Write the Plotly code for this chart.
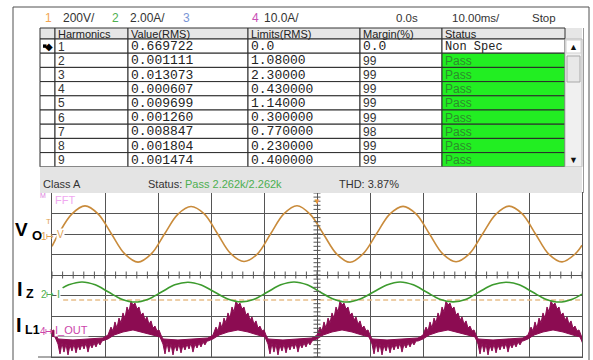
import plotly.graph_objects as go

# ================= DATA =================
top_items = ["1", "200V/", "2", "2.00A/", "3", "4", "10.0A/", "0.0s", "10.00ms/", "Stop"]
top_colors = ["#f2a552", "#333333", "#4fb04f", "#333333", "#7a96d6", "#c94fb6",
              "#333333", "#333333", "#333333", "#333333"]

table_columns = ["", "Harmonics", "Value(RMS)", "Limits(RMS)", "Margin(%)", "Status"]
harmonics = [1, 2, 3, 4, 5, 6, 7, 8, 9]
value_rms = ["0.669722", "0.001111", "0.013073", "0.000607", "0.009699",
             "0.001260", "0.008847", "0.001804", "0.001474"]
limits_rms = ["0.0", "1.08000", "2.30000", "0.430000", "1.14000",
              "0.300000", "0.770000", "0.230000", "0.400000"]
margin_pct = ["0.0", "99", "99", "99", "99", "99", "98", "99", "99"]
status = ["Non Spec", "Pass", "Pass", "Pass", "Pass", "Pass", "Pass", "Pass", "Pass"]
selected_row = 0

class_label = "Class A"
status_label = "Status:"
status_summary = "Pass 2.262k/2.262k"
thd_label = "THD: 3.87%"

# waveform readings (time in ms, 10 ms/div; vertical in divisions)
vo_t = [0, 1.23, 3.73, 6.23, 8.73, 11.23, 13.73, 16.23, 18.73, 21.23,
        23.73, 26.23, 28.73, 31.23, 33.73, 36.23, 38.73, 41.23, 43.73, 46.23,
        48.73, 51.23, 53.73, 56.23, 58.73, 61.23, 63.73, 66.23, 68.73, 71.23,
        73.73, 76.23, 78.73, 81.23, 83.73, 86.23, 88.73, 91.23, 93.73, 96.23,
        98.73, 100]
vo_v = [1.40,
        2.00, 2.97, 3.37, 2.97, 2.00, 1.03, 0.63, 1.03,
        2.00, 2.96, 3.34, 2.98, 2.01, 1.04, 0.66, 1.02,
        2.00, 2.98, 3.38, 2.96, 1.99, 1.02, 0.62, 1.04,
        2.01, 2.97, 3.35, 2.97, 2.00, 1.03, 0.65, 1.03,
        2.00, 2.96, 3.36, 2.98, 2.00, 1.02, 0.64, 1.03,
        1.45]

iz_t = [2.0, 3.16, 5.66, 8.16, 10.66, 13.16, 15.66, 18.16, 20.66, 23.16,
        25.66, 28.16, 30.66, 33.16, 35.66, 38.16, 40.66, 43.16, 45.66, 48.16,
        50.66, 53.16, 55.66, 58.16, 60.66, 63.16, 65.66, 68.16, 70.66, 73.16,
        75.66, 78.16, 80.66, 83.16, 85.66, 88.16, 90.66, 93.16, 95.66, 98.16, 100]
iz_v = [-0.63,
        -0.48, -0.34, -0.48, -0.83, -1.18, -1.32, -1.18, -0.83,
        -0.48, -0.35, -0.49, -0.83, -1.17, -1.31, -1.18, -0.83,
        -0.48, -0.34, -0.48, -0.84, -1.18, -1.32, -1.17, -0.83,
        -0.49, -0.34, -0.48, -0.83, -1.18, -1.31, -1.18, -0.82,
        -0.48, -0.35, -0.48, -0.83, -1.18, -1.32, -1.18,
        -0.93]

ref_level_t = [2.1, 100]
ref_level_v = [-1.22, -1.22]

# I_L1: hump centres and one period of envelope readings (offset ms, level div)
il1_centers = [-4.53, 15.28, 35.09, 54.72, 74.72, 94.53]
il1_up_dt = [-5.66, -4.72, -4.15, -3.77, -3.40, -3.02, -2.64, -2.26, -1.89, -1.51,
             -1.13, -0.75, -0.38, 0.00, 0.38, 0.75, 1.13, 1.51, 1.89, 2.26,
             2.64, 3.02, 3.40, 3.77, 4.15, 4.53, 4.91, 5.28, 5.66, 8.49,
             11.32, 13.96]
il1_up_v = [-3.07, -2.93, -2.54, -2.73, -2.29, -2.59, -2.10, -2.34, -1.85, -2.10,
            -1.56, -1.80, -1.27, -1.46, -1.37, -1.66, -1.56, -1.95, -1.85, -2.20,
            -2.05, -2.39, -2.24, -2.59, -2.49, -2.73, -2.68, -2.93, -3.12, -3.17,
            -3.12, -3.07]
il1_lo_dt = [-5.66, -4.72, -3.58, -1.89, 0.00, 1.89, 3.77, 5.09, 5.66, 6.04,
             6.42, 6.79, 7.17, 7.55, 7.92, 8.30, 8.68, 9.06, 9.43, 9.81,
             10.19, 10.57, 10.94, 11.32, 11.70, 12.08, 12.45, 12.83, 13.21, 13.58,
             13.96]
il1_lo_v = [-3.22, -3.12, -2.93, -2.78, -2.68, -2.78, -2.93, -3.02, -3.37, -3.85,
            -3.32, -3.76, -3.37, -3.90, -3.41, -3.71, -3.37, -3.80, -3.41, -3.66,
            -3.37, -3.61, -3.32, -3.76, -3.37, -3.56, -3.32, -3.51, -3.27, -3.41,
            -3.22]

# ================= STYLE / GEOMETRY =================
W, H = 593, 360
SANS = "Liberation Sans, Arial, sans-serif"
MONO = "Liberation Mono, Courier New, monospace"
C_VO = "#c98b3b"
C_IZ = "#3d9b2e"
C_IL = "#8c0c52"
C_GRID = "#555555"
GREEN_CELL = "#22ee22"
PASS_TXT = "#2c8c2c"

top_x = [44, 62, 111, 129, 182, 251, 263, 395, 451, 531]
col_edges = [40, 55, 128, 248, 360, 442, 565]
HEAD_T, HEAD_B = 28, 39
ROW_H = 14.2
scroll_x0, scroll_x1 = 565, 582
grid_l, grid_r, grid_t, grid_b = 52, 582, 193, 357

shapes = []
ann = []


def rect(x0, y0, x1, y1, fill, line=None, lw=1, layer="below"):
    shapes.append(dict(type="rect", xref="x2", yref="y2", x0=x0, y0=y0, x1=x1, y1=y1,
                       fillcolor=fill, layer=layer,
                       line=dict(color=line if line else "rgba(0,0,0,0)", width=lw if line else 0)))


def seg(x0, y0, x1, y1, color, lw=1, layer="above"):
    shapes.append(dict(type="line", xref="x2", yref="y2", x0=x0, y0=y0, x1=x1, y1=y1,
                       line=dict(color=color, width=lw), layer=layer))


def text(x, y, s, size=11, color="#222222", family=SANS, xanchor="left", bg=None):
    d = dict(x=x, y=y, xref="x2", yref="y2", text=s, showarrow=False,
             xanchor=xanchor, yanchor="middle",
             font=dict(family=family, size=size, color=color))
    if bg:
        d["bgcolor"] = bg
        d["borderpad"] = 0
    ann.append(d)


# outer frame
seg(13, 7, 589, 7, "#505050")
seg(13, 7, 13, 360, "#505050")
seg(589, 7, 589, 360, "#505050")

# top info bar
for s, c, x in zip(top_items, top_colors, top_x):
    text(x - 1, 17.5, s, size=12 if x < 390 else 11.5, color=c)

# table header
rect(col_edges[0], HEAD_T, scroll_x1, HEAD_B, "#e6e6e6")
for j, name in enumerate(table_columns):
    rect(col_edges[j], HEAD_T, col_edges[j + 1], HEAD_B, "#e6e6e6", "#333333")
    if name:
        text(col_edges[j] + 0.5, (HEAD_T + HEAD_B) / 2 + 0.5, name, size=11, color="#222222")

# table body
columns_data = [[""] * len(harmonics), [str(h) for h in harmonics], value_rms, limits_rms, margin_pct, status]
for i in range(len(harmonics)):
    y0 = HEAD_B + i * ROW_H
    y1 = y0 + ROW_H
    yc = (y0 + y1) / 2 + 0.5
    for j in range(len(table_columns)):
        val = columns_data[j][i]
        fill = "white"
        if j == 5 and val == "Pass":
            fill = GREEN_CELL
        rect(col_edges[j], y0, col_edges[j + 1], y1, fill, "#2a2a2a")
        if j == 0:
            if i == selected_row:
                # selection pointer: stem + diamond head
                rect(43, yc - 2.2, 46.5, yc + 1.2, "#000000", layer="above")
                text(48.5, yc - 0.5, "◆", size=10, color="#000000",
                     family="DejaVu Sans", xanchor="center")
            continue
        if j in (2, 3):
            text(col_edges[j] + 0.5, yc, val, size=13, family=MONO, color="#222222")
        elif j == 4:
            if val == "0.0":
                text(col_edges[j] + 0.5, yc, val, size=13, family=MONO, color="#222222")
            else:
                text(col_edges[j] + 0.5, yc, val, size=12, color="#333333")
        elif j == 5:
            if val == "Pass":
                text(col_edges[j] + 0.5, yc, val, size=12, color=PASS_TXT)
            else:
                text(col_edges[j] + 0.5, yc, val, size=12, family=MONO, color="#222222")
        else:
            text(col_edges[j] + 0.5, yc, val, size=12, color="#333333")

table_bottom = HEAD_B + len(harmonics) * ROW_H

# scrollbar
rect(scroll_x0, HEAD_B, scroll_x1, table_bottom, "#f0f0f0", "#b8b8b8")
rect(scroll_x0 + 1, HEAD_B + 1, scroll_x1 - 1, HEAD_B + 14, "white", "#d0d0d0")
rect(scroll_x0 + 2, HEAD_B + 17, scroll_x1 - 2, HEAD_B + 43, "#e8e8e8", "#a8a8a8")
text((scroll_x0 + scroll_x1) / 2, HEAD_B + 7.5, "▲", size=9, color="#111111", xanchor="center")
text((scroll_x0 + scroll_x1) / 2, table_bottom - 7, "▼", size=9, color="#111111", xanchor="center")
seg(583.5, HEAD_T, 583.5, grid_t, "#9a9a9a")

# status band
rect(col_edges[0], table_bottom, scroll_x1, grid_t, "#e4e4e4")
text(41, 183.5, class_label, size=11, color="#333333")
text(146, 183.5, status_label, size=11, color="#333333")
text(183, 183.5, status_summary, size=11, color="#4caf50")
text(337, 183.5, thd_label, size=11, color="#333333")

# bottom rule under scope
seg(38, grid_b, grid_r, grid_b, C_GRID)

# left big labels
text(13, 229.5, "<b>V</b>", size=19, color="#000000")
text(29.5, 235.5, "<b>O</b>", size=13, color="#000000")
text(15, 288.5, "<b>I</b>", size=20, color="#000000")
text(24, 294, "<b>Z</b>", size=12.5, color="#000000")
text(14, 325, "<b>I</b>", size=20, color="#000000")
text(23, 330, "<b>L1</b>", size=12.5, color="#000000")

# channel markers
text(38, 195.5, "M", size=7, color="#e080e0")
text(53, 199.5, "FFT", size=11, color="#f0a8f0")
text(44, 221, "T", size=8, color="#e0a050")
text(39, 236, "1", size=10, color="#e0a050")
text(44, 236, "↦", size=9, color="#e0a050")
text(56, 234, "V", size=10, color="#e0a050", bg="white")
text(39, 294, "2", size=10, color="#4fb04f")
text(44, 294, "↦", size=9, color="#4fb04f")
text(56, 293.5, "I", size=11, color="#4fb04f", bg="white")
text(38, 331, "4", size=10, color="#cc44aa")
text(43, 331, "↦", size=9, color="#cc44aa")
text(54, 330, "I_OUT", size=11, color="#cc44aa", bg="white")

# ================= FIGURE =================
fig = go.Figure()

# I_L1 envelope polygon
up_x, up_y, lo_x, lo_y = [], [], [], []
for c in il1_centers:
    up_x += [c + d for d in il1_up_dt]
    up_y += il1_up_v
    lo_x += [c + d for d in il1_lo_dt]
    lo_y += il1_lo_v
poly_x = up_x + lo_x[::-1] + [up_x[0]]
poly_y = up_y + lo_y[::-1] + [up_y[0]]
fig.add_trace(go.Scatter(x=poly_x, y=poly_y, mode="lines", fill="toself",
                         fillcolor=C_IL, line=dict(color=C_IL, width=1),
                         hoverinfo="skip"))

fig.add_trace(go.Scatter(x=ref_level_t, y=ref_level_v, mode="lines",
                         line=dict(color="#e8bf8a", width=1.5, dash="5px,3px"),
                         hoverinfo="skip"))
fig.add_trace(go.Scatter(x=iz_t, y=iz_v, mode="lines",
                         line=dict(color=C_IZ, width=1.6, shape="spline"), hoverinfo="skip"))
fig.add_trace(go.Scatter(x=vo_t, y=vo_v, mode="lines",
                         line=dict(color=C_VO, width=1.6, shape="spline"), hoverinfo="skip"))

# graticule minor ticks on centre lines
fig.add_trace(go.Scatter(x=[i * 2 for i in range(51)], y=[0] * 51, mode="markers",
                         marker=dict(symbol="line-ns", size=5, line=dict(width=1, color=C_GRID)),
                         hoverinfo="skip"))
fig.add_trace(go.Scatter(x=[50] * 41, y=[-4 + i * 0.2 for i in range(41)], mode="markers",
                         marker=dict(symbol="line-ew", size=5, line=dict(width=1, color=C_GRID)),
                         hoverinfo="skip"))

# helper subplot in pixel units
fig.add_trace(go.Scatter(x=[None], y=[None], xaxis="x2", yaxis="y2", hoverinfo="skip"))

ann.append(dict(x=50, y=4, xref="x", yref="y", text="▼", showarrow=False,
                xanchor="center", yanchor="top", font=dict(size=8, color="#e8963a")))

fig.update_layout(
    width=W, height=H, margin=dict(l=0, r=0, t=0, b=0),
    paper_bgcolor="white", plot_bgcolor="rgba(0,0,0,0)", showlegend=False,
    xaxis=dict(domain=[grid_l / W, grid_r / W], range=[0, 100], dtick=10, tick0=0,
               showgrid=True, gridcolor=C_GRID, gridwidth=1, zeroline=False,
               showticklabels=False, ticks="", showline=True, mirror=True,
               linecolor=C_GRID, linewidth=1, fixedrange=True),
    yaxis=dict(domain=[1 - grid_b / H, 1 - grid_t / H], range=[-4, 4], dtick=1, tick0=0,
               showgrid=True, gridcolor=C_GRID, gridwidth=1, zeroline=False,
               showticklabels=False, ticks="", showline=True, mirror=True,
               linecolor=C_GRID, linewidth=1, fixedrange=True),
    xaxis2=dict(domain=[0, 1], range=[0, W], visible=False, anchor="y2", fixedrange=True),
    yaxis2=dict(domain=[0, 1], range=[H, 0], visible=False, anchor="x2", fixedrange=True),
    shapes=shapes, annotations=ann,
)

fig.write_html("out.html")
